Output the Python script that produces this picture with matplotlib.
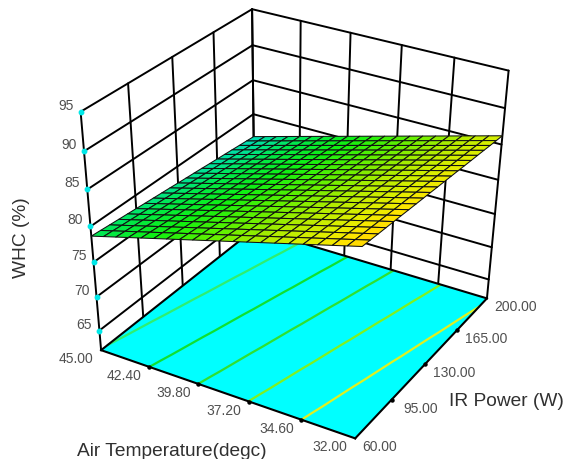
import numpy as np
import matplotlib
matplotlib.use('Agg')
import matplotlib.pyplot as plt
from matplotlib.colors import LinearSegmentedColormap, Normalize
from mpl_toolkits.mplot3d import proj3d

plt.rcParams['font.family'] = ['Liberation Sans', 'DejaVu Sans']

air_ticks = [45.00, 42.40, 39.80, 37.20, 34.60, 32.00]
ir_ticks = [60.00, 95.00, 130.00, 165.00, 200.00]
whc_ticks = [65, 70, 75, 80, 85, 90, 95]
whc_floor = 62

whc = np.array([
    [78.67, 78.57, 78.46, 78.36, 78.26, 78.16, 78.05, 77.95, 77.85, 77.75, 77.64, 77.54, 77.44, 77.34, 77.23, 77.13, 77.03, 76.93, 76.82, 76.72, 76.62],
    [79.15, 79.05, 78.94, 78.84, 78.74, 78.64, 78.53, 78.43, 78.33, 78.23, 78.12, 78.02, 77.92, 77.82, 77.71, 77.61, 77.51, 77.41, 77.30, 77.20, 77.10],
    [79.63, 79.53, 79.42, 79.32, 79.22, 79.12, 79.01, 78.91, 78.81, 78.71, 78.60, 78.50, 78.40, 78.30, 78.19, 78.09, 77.99, 77.89, 77.78, 77.68, 77.58],
    [80.11, 80.01, 79.90, 79.80, 79.70, 79.60, 79.49, 79.39, 79.29, 79.19, 79.08, 78.98, 78.88, 78.78, 78.67, 78.57, 78.47, 78.37, 78.26, 78.16, 78.06],
    [80.59, 80.49, 80.38, 80.28, 80.18, 80.08, 79.97, 79.87, 79.77, 79.67, 79.56, 79.46, 79.36, 79.26, 79.15, 79.05, 78.95, 78.85, 78.74, 78.64, 78.54],
    [81.07, 80.97, 80.86, 80.76, 80.66, 80.56, 80.45, 80.35, 80.25, 80.15, 80.04, 79.94, 79.84, 79.74, 79.63, 79.53, 79.43, 79.33, 79.22, 79.12, 79.02],
    [81.55, 81.45, 81.34, 81.24, 81.14, 81.04, 80.93, 80.83, 80.73, 80.63, 80.52, 80.42, 80.32, 80.22, 80.11, 80.01, 79.91, 79.81, 79.70, 79.60, 79.50],
    [82.03, 81.93, 81.82, 81.72, 81.62, 81.52, 81.41, 81.31, 81.21, 81.11, 81.00, 80.90, 80.80, 80.70, 80.59, 80.49, 80.39, 80.29, 80.18, 80.08, 79.98],
    [82.51, 82.41, 82.30, 82.20, 82.10, 82.00, 81.89, 81.79, 81.69, 81.59, 81.48, 81.38, 81.28, 81.18, 81.07, 80.97, 80.87, 80.77, 80.66, 80.56, 80.46],
    [82.99, 82.89, 82.78, 82.68, 82.58, 82.48, 82.37, 82.27, 82.17, 82.07, 81.96, 81.86, 81.76, 81.66, 81.55, 81.45, 81.35, 81.25, 81.14, 81.04, 80.94],
    [83.47, 83.37, 83.26, 83.16, 83.06, 82.96, 82.85, 82.75, 82.65, 82.55, 82.44, 82.34, 82.24, 82.14, 82.03, 81.93, 81.83, 81.73, 81.62, 81.52, 81.42],
    [83.95, 83.85, 83.74, 83.64, 83.54, 83.44, 83.33, 83.23, 83.13, 83.03, 82.92, 82.82, 82.72, 82.62, 82.51, 82.41, 82.31, 82.21, 82.10, 82.00, 81.90],
    [84.43, 84.33, 84.22, 84.12, 84.02, 83.92, 83.81, 83.71, 83.61, 83.51, 83.40, 83.30, 83.20, 83.10, 82.99, 82.89, 82.79, 82.69, 82.58, 82.48, 82.38],
    [84.91, 84.81, 84.70, 84.60, 84.50, 84.40, 84.29, 84.19, 84.09, 83.99, 83.88, 83.78, 83.68, 83.58, 83.47, 83.37, 83.27, 83.17, 83.06, 82.96, 82.86],
    [85.39, 85.29, 85.18, 85.08, 84.98, 84.88, 84.77, 84.67, 84.57, 84.47, 84.36, 84.26, 84.16, 84.06, 83.95, 83.85, 83.75, 83.65, 83.54, 83.44, 83.34],
    [85.87, 85.77, 85.66, 85.56, 85.46, 85.36, 85.25, 85.15, 85.05, 84.95, 84.84, 84.74, 84.64, 84.54, 84.43, 84.33, 84.23, 84.13, 84.02, 83.92, 83.82],
    [86.35, 86.25, 86.14, 86.04, 85.94, 85.84, 85.73, 85.63, 85.53, 85.43, 85.32, 85.22, 85.12, 85.02, 84.91, 84.81, 84.71, 84.61, 84.50, 84.40, 84.30],
    [86.83, 86.73, 86.62, 86.52, 86.42, 86.32, 86.21, 86.11, 86.01, 85.91, 85.80, 85.70, 85.60, 85.50, 85.39, 85.29, 85.19, 85.09, 84.98, 84.88, 84.78],
    [87.31, 87.21, 87.10, 87.00, 86.90, 86.80, 86.69, 86.59, 86.49, 86.39, 86.28, 86.18, 86.08, 85.98, 85.87, 85.77, 85.67, 85.57, 85.46, 85.36, 85.26],
    [87.79, 87.69, 87.58, 87.48, 87.38, 87.28, 87.17, 87.07, 86.97, 86.87, 86.76, 86.66, 86.56, 86.46, 86.35, 86.25, 86.15, 86.05, 85.94, 85.84, 85.74],
    [88.27, 88.17, 88.06, 87.96, 87.86, 87.76, 87.65, 87.55, 87.45, 87.35, 87.24, 87.14, 87.04, 86.94, 86.83, 86.73, 86.63, 86.53, 86.42, 86.32, 86.22],
])

contour_levels = [78.6, 80.6, 82.5, 84.4, 86.35]
contour_colors = ['#30ee70', '#10e030', '#30e030', '#80f020', '#e0f020']

color_stops = [(76.6, '#00dcb4'), (77.8, '#00e684'), (78.8, '#00e848'), (80.8, '#10f010'),
               (82.8, '#60f000'), (84.8, '#b4ec00'), (86.3, '#e0ee00'), (87.3, '#ffe400'), (88.3, '#ffd000')]

# camera of the plot, the reference is not a plain view_init perspective
camera = np.array([
    [-0.008247178582145595, 0.00045151726790450177, 2.4336025225857236e-05, 0.257229991502287],
    [0.0024017755774458707, 0.0003642228481371525, 0.002961142946045091, -0.3725934561051706],
    [1 / 13, 1 / 140, 0.0, -32 / 13 - 60 / 140],
    [0.00578287644849901, 0.0010538783004965682, -0.0034265038943726137, 1.0],
])

air_lo, air_hi = min(air_ticks), max(air_ticks)
ir_lo, ir_hi = min(ir_ticks), max(ir_ticks)
z_hi = max(whc_ticks)

fig = plt.figure(figsize=(5.66, 4.6), dpi=100)
ax = fig.add_axes([53.8 / 566, 0.3 / 460, 480 / 566, 480 / 460], projection='3d')
ax.computed_zorder = False
ax.set_xlim(air_hi, air_lo)
ax.set_ylim(ir_lo, ir_hi)
ax.set_zlim(whc_floor, z_hi)
ax.set_proj_type('ortho')  # stops Line3D clipping against the camera's depth row
ax.get_proj = lambda: camera
ax.set_axis_off()
ax.patch.set_visible(False)

line = dict(color='black', lw=1.4, zorder=1, solid_capstyle='round')

# left wall (Air = 45) and back wall (IR = 200)
for z in whc_ticks:
    ax.plot([air_hi, air_hi], [ir_lo, ir_hi], [z, z], **line)
    ax.plot([air_hi, air_lo], [ir_hi, ir_hi], [z, z], **line)
for p in ir_ticks:
    ax.plot([air_hi, air_hi], [p, p], [whc_floor, z_hi], **line)
for a in air_ticks:
    ax.plot([a, a], [ir_hi, ir_hi], [whc_floor, z_hi], **line)

# floor with the projected contours
fx, fy = np.meshgrid([air_hi, air_lo], [ir_lo, ir_hi], indexing='ij')
ax.plot_surface(fx, fy, np.full(fx.shape, whc_floor), color='#00ffff', shade=False, linewidth=0, zorder=2)

air_grid, ir_grid = np.meshgrid(np.linspace(air_hi, air_lo, whc.shape[0]), np.linspace(ir_lo, ir_hi, whc.shape[1]), indexing='ij')
ax.contour(air_grid, ir_grid, whc, levels=contour_levels, colors=contour_colors, linewidths=1.6,
           zdir='z', offset=whc_floor, zorder=3)

edge = dict(color='black', lw=1.5, zorder=4)
ax.plot([air_hi, air_lo], [ir_lo, ir_lo], [whc_floor, whc_floor], **edge)
ax.plot([air_lo, air_lo], [ir_lo, ir_hi], [whc_floor, whc_floor], **edge)
ax.plot([air_hi, air_lo], [ir_hi, ir_hi], [whc_floor, whc_floor], **edge)
ax.plot([air_hi, air_hi], [ir_lo, ir_hi], [whc_floor, whc_floor], **edge)

# the fitted surface
vmin, vmax = color_stops[0][0], color_stops[-1][0]
cmap = LinearSegmentedColormap.from_list('whc', [((v - vmin) / (vmax - vmin), c) for v, c in color_stops])
ax.plot_surface(air_grid, ir_grid, whc, facecolors=cmap(Normalize(vmin, vmax)(whc)), edgecolor='#101010',
                linewidth=0.75, shade=False, rstride=1, cstride=1, antialiased=True, zorder=5)

# ticks
ax.plot([air_hi] * len(whc_ticks), [ir_lo] * len(whc_ticks), whc_ticks, ls='', marker='o', ms=3.2, color='#00e8e8', zorder=6)
ax.plot(air_ticks[1:-1], [ir_lo] * 4, [whc_floor] * 4, ls='', marker='o', ms=2.2, color='black', zorder=6)
ax.plot([air_lo] * 3, ir_ticks[1:-1], [whc_floor] * 3, ls='', marker='o', ms=2.2, color='black', zorder=6)


def tick_label(x, y, z, s, dx, dy):
    px, py, _ = proj3d.proj_transform(x, y, z, camera)
    ax.annotate(s, (px, py), xytext=(dx, -dy), textcoords='offset pixels', ha='center', va='center',
                fontsize=10, color='#505050', annotation_clip=False)


for z in whc_ticks:
    tick_label(air_hi, ir_lo, z, str(z), -15, -7)
for a in air_ticks:
    tick_label(a, ir_lo, whc_floor, '%.2f' % a, -25, 8)
for p in ir_ticks:
    tick_label(air_lo, p, whc_floor, '%.2f' % p, 24 if p == ir_lo else 29, 8)

fig.text(172 / 566, 1 - 452 / 460, 'Air Temperature(degc)', fontsize=13.8, color='#303030', ha='center', va='center')
fig.text(506 / 566, 1 - 402 / 460, 'IR Power (W)', fontsize=13.8, color='#303030', ha='center', va='center')
fig.text(22 / 566, 1 - 238 / 460, 'WHC (%)', fontsize=13.8, color='#303030', ha='center', va='center', rotation=90)

fig.savefig('out.png', dpi=100)
